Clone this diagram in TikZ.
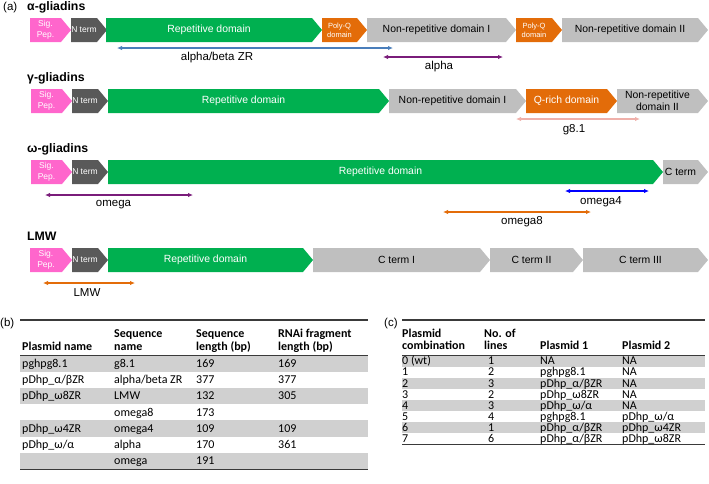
\documentclass[tikz,border=0pt]{standalone}
\usepackage{fontspec}
\setmainfont{Liberation Sans}
\newfontfamily\tabfont{Carlito}
\usetikzlibrary{arrows.meta}
\definecolor{sigpink}{HTML}{FF66CC}
\definecolor{ntgray}{HTML}{595959}
\definecolor{repgreen}{HTML}{00B050}
\definecolor{qorange}{HTML}{E36C09}
\definecolor{dgray}{HTML}{BFBFBF}
\definecolor{abblue}{HTML}{4A7EBB}
\definecolor{apurple}{HTML}{7A1C7A}
\definecolor{oblue}{HTML}{0000FF}
\definecolor{gpink}{HTML}{EFB0AA}
\definecolor{rowgray}{HTML}{D0D0D0}
\definecolor{rulegray}{HTML}{3A3A3A}
\newcommand\gbox[7]{%
  \fill[#5] (#2,#4) -- (#3-10,#4) -- (#3,#4+12) -- (#3-10,#4+24) -- (#2,#4+24) -- cycle;
  \node[#6] (#1) at ({(#2+#3-10)/2},#4+12) {#7};
}
\newcommand\tcell[4]{\node[tcell] (#1) at (#2,#3) {#4};}
\begin{document}
\begin{tikzpicture}[x=1pt,y=-1pt,
  lbl/.style={inner sep=0pt,align=center},
  wsmall/.style={lbl,text=white,font=\fontsize{8.5}{11}\selectfont},
  wtiny/.style={lbl,text=white,font=\fontsize{7.5}{9}\selectfont},
  wmid/.style={lbl,text=white,font=\fontsize{10.4}{12}\selectfont},
  bmid/.style={lbl,text=black,font=\fontsize{10.4}{12}\selectfont},
  ttl/.style={inner sep=0pt,anchor=base west,font=\bfseries\fontsize{12.3}{14}\selectfont},
  panel/.style={inner sep=0pt,anchor=base west,font=\fontsize{11.5}{13}\selectfont},
  alab/.style={inner sep=0pt,font=\fontsize{11.5}{13}\selectfont},
  arr/.style={line width=1.4pt,arrows={Latex[length=5pt,width=4.5pt]-Latex[length=5pt,width=4.5pt]}},
  tcell/.style={inner sep=0pt,anchor=base west,font=\tabfont\fontsize{12}{12}\selectfont},
  thead/.style={tcell,font=\tabfont\bfseries\fontsize{12}{12}\selectfont},
  toprule/.style={draw=rulegray,line width=1.3pt},
  midrule/.style={draw=rulegray,line width=0.8pt}]
\useasboundingbox (0,0) rectangle (709,483);

% ---------- panel (a) ----------
\node[panel] (pa) at (3,10) {(a)};
\node[ttl] (t1) at (27,10) {α-gliadins};
\gbox{a1}{30}{71}{18}{sigpink}{wsmall}{Sig.\\Pep.}
\gbox{a2}{71}{107}{18}{ntgray}{wsmall}{N term}
\gbox{a3}{106}{322}{18}{repgreen}{wmid}{Repetitive domain}
\gbox{a4}{322}{367}{18}{qorange}{wtiny}{Poly-Q\\domain}
\gbox{a5}{367}{516}{18}{dgray}{bmid}{Non-repetitive domain I}
\gbox{a6}{516}{562}{18}{qorange}{wtiny}{Poly-Q\\domain}
\gbox{a7}{562}{708}{18}{dgray}{bmid}{Non-repetitive domain II}
\coordinate (abL) at (117,48); \coordinate (abR) at (393,48);
\draw[arr,abblue] (abL) -- (abR);
\node[alab] (abT) at (217,57.5) {alpha/beta ZR};
\coordinate (alL) at (383,57); \coordinate (alR) at (503,57);
\draw[arr,apurple] (alL) -- (alR);
\node[alab] (alT) at (439,66.5) {alpha};

\node[ttl] (t2) at (27,81) {γ-gliadins};
\gbox{g1}{31}{72}{89}{sigpink}{wsmall}{Sig.\\Pep.}
\gbox{g2}{72}{108}{89}{ntgray}{wsmall}{N term}
\gbox{g3}{108}{389}{89}{repgreen}{wmid}{Repetitive domain}
\gbox{g4}{389}{526}{89}{dgray}{bmid}{Non-repetitive domain I}
\gbox{g5}{526}{617}{89}{qorange}{wmid}{Q-rich domain}
\gbox{g6}{617}{708}{89}{dgray}{bmid}{Non-repetitive\\domain II}
\coordinate (g8L) at (516,119); \coordinate (g8R) at (640,119);
\draw[arr,gpink] (g8L) -- (g8R);
\node[alab] (g8T) at (574,130) {g8.1};

\node[ttl] (t3) at (27,152) {ω-gliadins};
\gbox{o1}{31}{72}{160}{sigpink}{wsmall}{Sig.\\Pep.}
\gbox{o2}{72}{108}{160}{ntgray}{wsmall}{N term}
\gbox{o3}{108}{663}{160}{repgreen}{wmid}{Repetitive domain}
\gbox{o4}{663}{708}{160}{dgray}{bmid}{C term}
\coordinate (omL) at (45,195); \coordinate (omR) at (193,195);
\draw[arr,apurple] (omL) -- (omR);
\node[alab] (omT) at (113.5,204.5) {omega};
\coordinate (o4L) at (565,191); \coordinate (o4R) at (649,191);
\draw[arr,oblue] (o4L) -- (o4R);
\node[alab] (o4T) at (601,201.5) {omega4};
\coordinate (o8L) at (443,212); \coordinate (o8R) at (591,212);
\draw[arr,qorange] (o8L) -- (o8R);
\node[alab] (o8T) at (522,222) {omega8};

\node[ttl] (t4) at (27,240) {LMW};
\gbox{l1}{30}{72}{248}{sigpink}{wsmall}{Sig.\\Pep.}
\gbox{l2}{72}{108}{248}{ntgray}{wsmall}{N term}
\gbox{l3}{108}{313}{248}{repgreen}{wmid}{Repetitive domain}
\gbox{l4}{313}{490}{248}{dgray}{bmid}{C term I}
\gbox{l5}{490}{583}{248}{dgray}{bmid}{C term II}
\gbox{l6}{583}{708}{248}{dgray}{bmid}{C term III}
\coordinate (lmL) at (43,283); \coordinate (lmR) at (135,283);
\draw[arr,qorange] (lmL) -- (lmR);
\node[alab] (lmT) at (87,292.5) {LMW};

% ---------- panel (b) ----------
\node[panel] (pb) at (0,326) {(b)};
\foreach \t in {355.5,387.9,420.3,452.7}{\fill[rowgray] (20,\t) rectangle (368,\t+16.2);}
\draw[toprule] (20,320) -- (368,320);
\draw[midrule] (20,355.5) -- (368,355.5);
\draw[toprule] (20,469.5) -- (368,469.5);
\node[thead] (bh1) at (22,350) {Plasmid name};
\node[thead] (bh2a) at (114,337.5) {Sequence};
\node[thead] (bh2b) at (114,350) {name};
\node[thead] (bh3a) at (196,337.5) {Sequence};
\node[thead] (bh3b) at (196,350) {length (bp)};
\node[thead] (bh4a) at (278,337.5) {RNAi fragment};
\node[thead] (bh4b) at (278,350) {length (bp)};
\tcell{b11}{22}{367.5}{pghpg8.1}\tcell{b12}{114}{367.5}{g8.1}\tcell{b13}{196}{367.5}{169}\tcell{b14}{278}{367.5}{169}
\tcell{b21}{22}{383.7}{pDhp\_α/βZR}\tcell{b22}{114}{383.7}{alpha/beta ZR}\tcell{b23}{196}{383.7}{377}\tcell{b24}{278}{383.7}{377}
\tcell{b31}{22}{399.9}{pDhp\_ω8ZR}\tcell{b32}{114}{399.9}{LMW}\tcell{b33}{196}{399.9}{132}\tcell{b34}{278}{399.9}{305}
\tcell{b42}{114}{416.1}{omega8}\tcell{b43}{196}{416.1}{173}
\tcell{b51}{22}{432.3}{pDhp\_ω4ZR}\tcell{b52}{114}{432.3}{omega4}\tcell{b53}{196}{432.3}{109}\tcell{b54}{278}{432.3}{109}
\tcell{b61}{22}{448.5}{pDhp\_ω/α}\tcell{b62}{114}{448.5}{alpha}\tcell{b63}{196}{448.5}{170}\tcell{b64}{278}{448.5}{361}
\tcell{b72}{114}{464.7}{omega}\tcell{b73}{196}{464.7}{191}

% ---------- panel (c) ----------
\node[panel] (pc) at (384,326) {(c)};
\foreach \t in {355.5,377.7,399.9,422.1}{\fill[rowgray] (402,\t) rectangle (705,\t+11.1);}
\draw[toprule] (402,320) -- (705,320);
\draw[midrule] (402,355.5) -- (705,355.5);
\draw[toprule] (402,444.8) -- (705,444.8);
\node[thead] (ch1a) at (402,337.5) {Plasmid};
\node[thead] (ch1b) at (402,349.5) {combination};
\node[thead] (ch2a) at (484,337.5) {No. of};
\node[thead] (ch2b) at (484,349.5) {lines};
\node[thead] (ch3) at (540,349.5) {Plasmid 1};
\node[thead] (ch4) at (622,349.5) {Plasmid 2};
\tcell{c01}{402}{364.8}{0 (wt)}\tcell{c02}{488}{364.8}{1}\tcell{c03}{540}{364.8}{NA}\tcell{c04}{622}{364.8}{NA}
\tcell{c11}{402}{375.9}{1}\tcell{c12}{488}{375.9}{2}\tcell{c13}{540}{375.9}{pghpg8.1}\tcell{c14}{622}{375.9}{NA}
\tcell{c21}{402}{387.0}{2}\tcell{c22}{488}{387.0}{3}\tcell{c23}{540}{387.0}{pDhp\_α/βZR}\tcell{c24}{622}{387.0}{NA}
\tcell{c31}{402}{398.1}{3}\tcell{c32}{488}{398.1}{2}\tcell{c33}{540}{398.1}{pDhp\_ω8ZR}\tcell{c34}{622}{398.1}{NA}
\tcell{c41}{402}{409.2}{4}\tcell{c42}{488}{409.2}{3}\tcell{c43}{540}{409.2}{pDhp\_ω/α}\tcell{c44}{622}{409.2}{NA}
\tcell{c51}{402}{420.3}{5}\tcell{c52}{488}{420.3}{4}\tcell{c53}{540}{420.3}{pghpg8.1}\tcell{c54}{622}{420.3}{pDhp\_ω/α}
\tcell{c61}{402}{431.4}{6}\tcell{c62}{488}{431.4}{1}\tcell{c63}{540}{431.4}{pDhp\_α/βZR}\tcell{c64}{622}{431.4}{pDhp\_ω4ZR}
\tcell{c71}{402}{442.5}{7}\tcell{c72}{488}{442.5}{6}\tcell{c73}{540}{442.5}{pDhp\_α/βZR}\tcell{c74}{622}{442.5}{pDhp\_ω8ZR}
\end{tikzpicture}
\end{document}
